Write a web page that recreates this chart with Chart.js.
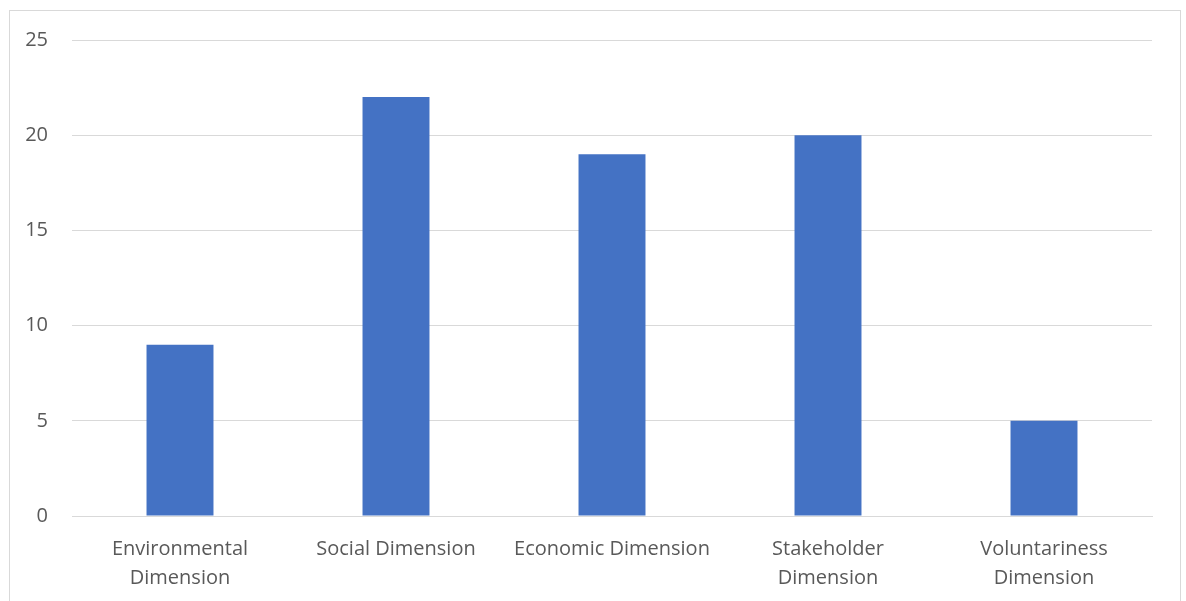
<!DOCTYPE html>
<html>
<head>
<meta charset="utf-8">
<script src="https://cdn.jsdelivr.net/npm/chart.js@4"></script>
<style>
    html, body { margin: 0; padding: 0; background: #fff; overflow: hidden; }
    #frame { position: absolute; left: 9px; top: 10px; width: 1170px; height: 600px; border: 1px solid #d9d9d9; }
    #wrap { position: absolute; left: 0; top: 0; width: 1186px; height: 601px; }
</style>
</head>
<body>
<div id="frame"></div>
<div id="wrap"><canvas id="chart"></canvas></div>
<script>
// Chart data
const categories = [
    ['Environmental', 'Dimension'],
    'Social Dimension',
    'Economic Dimension',
    ['Stakeholder', 'Dimension'],
    ['Voluntariness', 'Dimension']
];
const counts = [9, 22, 19, 20, 5];
const yTicks = [0, 5, 10, 15, 20, 25];

const textColor = '#595959';
const gridColor = '#d9d9d9';
const barColor = '#4472C4';
const fontFamily = "'Open Sans', 'Noto Sans', sans-serif";

const ctx = document.getElementById('chart').getContext('2d');

new Chart(ctx, {
    type: 'bar',
    data: {
        labels: categories,
        datasets: [{
            data: counts,
            backgroundColor: barColor,
            borderWidth: 0,
            barPercentage: 0.31,
            categoryPercentage: 1.0
        }]
    },
    options: {
        responsive: true,
        maintainAspectRatio: false,
        animation: false,
        layout: { padding: { left: 0, right: 34, top: 40, bottom: 0 } },
        scales: {
            y: {
                min: 0,
                max: 25,
                afterFit: (scale) => { scale.width = 72; },
                afterBuildTicks: (scale) => { scale.ticks = yTicks.map(v => ({ value: v })); },
                grid: { color: gridColor, lineWidth: 1, drawTicks: false },
                border: { display: false },
                ticks: {
                    color: textColor,
                    padding: 24,
                    font: { family: fontFamily, size: 20 }
                }
            },
            x: {
                afterFit: (scale) => { scale.height = 85; },
                grid: { display: false, drawTicks: false },
                border: { display: true, color: gridColor, width: 1 },
                ticks: {
                    color: textColor,
                    padding: 19,
                    maxRotation: 0,
                    autoSkip: false,
                    font: { family: fontFamily, size: 20, lineHeight: 1.45 }
                }
            }
        },
        plugins: {
            legend: { display: false },
            tooltip: { enabled: false }
        }
    }
});
</script>
</body>
</html>
